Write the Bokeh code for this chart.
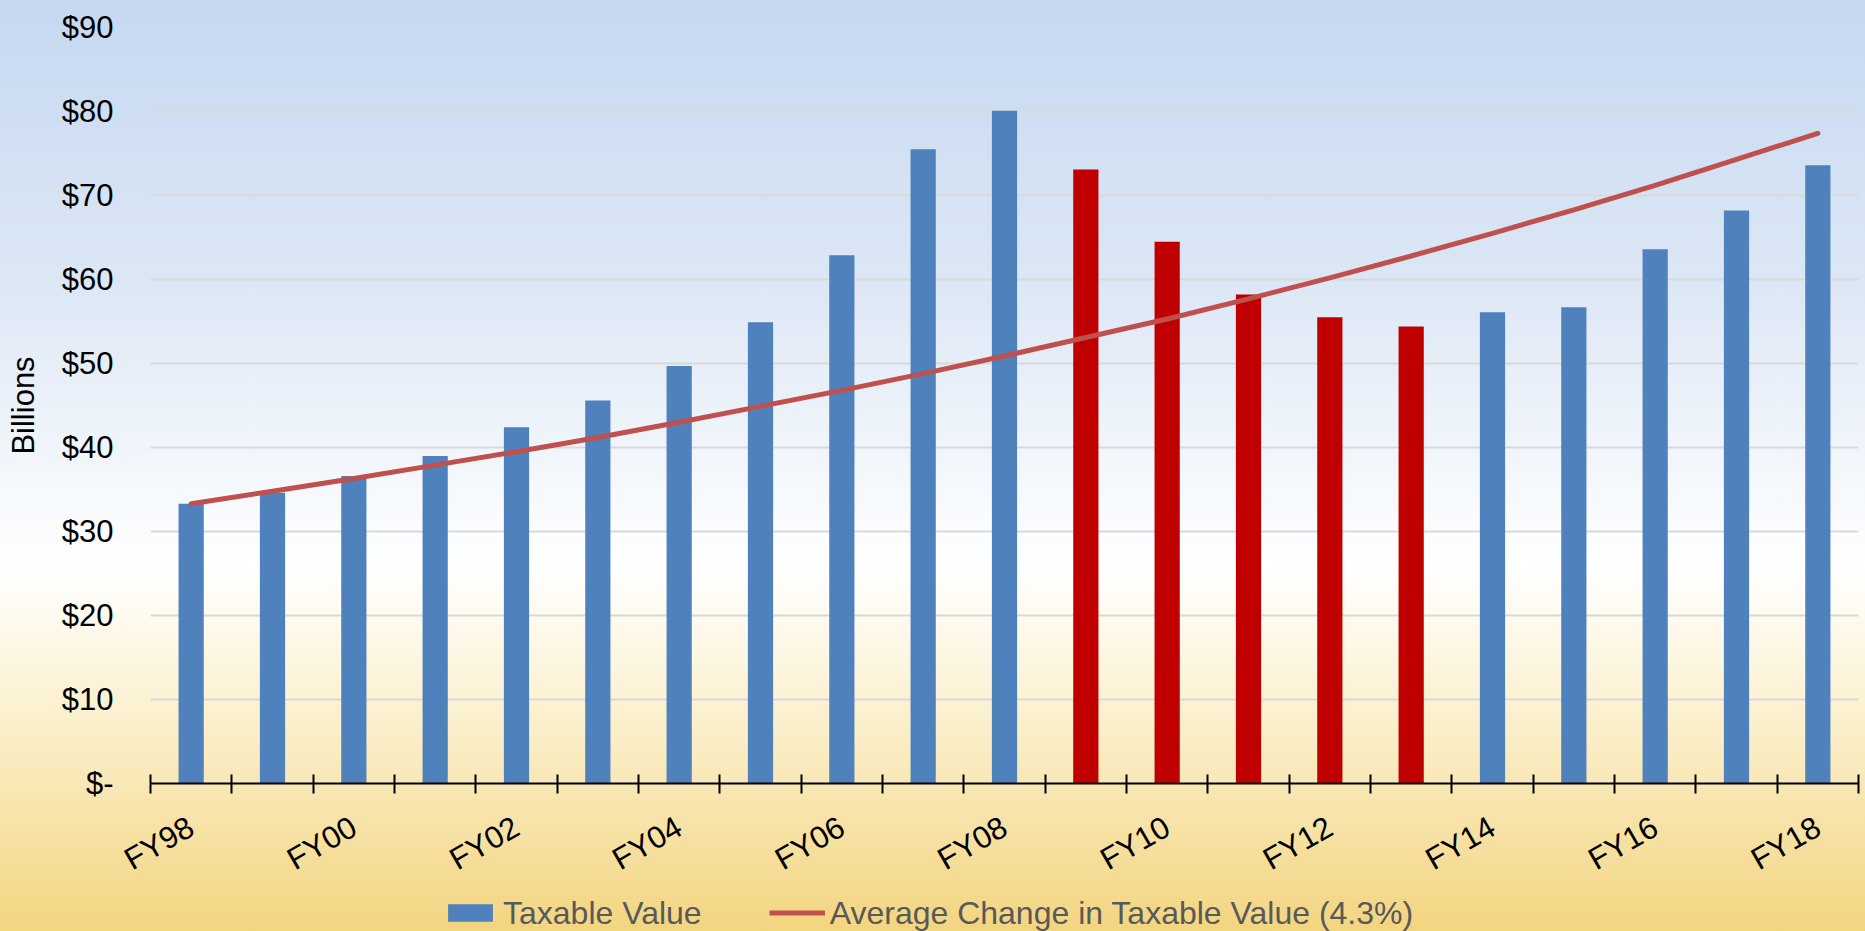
import math
from bokeh.plotting import figure
from bokeh.layouts import column
from bokeh.models import (ColumnDataSource, FixedTicker, Range1d, Legend, LegendItem,
                          GlobalInlineStyleSheet)
from bokeh.embed import file_html
from bokeh.resources import INLINE

# ---------------- data ----------------
years = ["FY98", "FY99", "FY00", "FY01", "FY02", "FY03", "FY04", "FY05", "FY06", "FY07",
         "FY08", "FY09", "FY10", "FY11", "FY12", "FY13", "FY14", "FY15", "FY16", "FY17", "FY18"]
taxable_value = [33.3, 34.6, 36.6, 39.0, 42.4, 45.6, 49.7, 54.9, 62.9, 75.5,
                 80.1, 73.1, 64.5, 58.2, 55.5, 54.4, 56.1, 56.7, 63.6, 68.2, 73.6]
average_change = [33.3, 34.8, 36.3, 37.9, 39.5, 41.2, 43.0, 44.9, 46.8, 48.8,
                  50.9, 53.1, 55.3, 57.7, 60.2, 62.8, 65.5, 68.3, 71.2, 74.3, 77.4]
decline_years = ["FY09", "FY10", "FY11", "FY12", "FY13"]
labelled_years = ["FY98", "FY00", "FY02", "FY04", "FY06", "FY08", "FY10", "FY12", "FY14", "FY16", "FY18"]
y_ticks = [0, 10, 20, 30, 40, 50, 60, 70, 80, 90]
y_tick_labels = ["$-", "$10", "$20", "$30", "$40", "$50", "$60", "$70", "$80", "$90"]
bar_label = "Taxable Value"
line_label = "Average Change in Taxable Value (4.3%)"
y_axis_title = "Billions"

BLUE = "#4F81BD"
DARK_RED = "#C00000"
LINE_RED = "#C0504D"
FONT = "Liberation Sans"
GRADIENT = "linear-gradient(to bottom, #C5D8F0 0%, #DCE7F5 30%, #FFFFFF 61%, #FBEFCB 78%, #F3D580 100%)"

W, H = 1865, 931
H_LEGEND = 37

xpos = list(range(len(years)))
colors = [DARK_RED if y in decline_years else BLUE for y in years]
src = ColumnDataSource(dict(x=xpos, top=taxable_value, color=colors, trend=average_change))

p = figure(width=W, height=H - H_LEGEND, output_backend="svg", toolbar_location=None,
           x_range=Range1d(-0.5, len(years) - 0.5), y_range=Range1d(0, 90),
           min_border_left=150, min_border_right=7, min_border_top=27,
           min_border_bottom=H - H_LEGEND - 783)
p.background_fill_color = None
p.border_fill_color = None
p.outline_line_color = None

page_css = GlobalInlineStyleSheet(css=(
    "html { min-height: 100%; background-color: #FFFFFF; background-image: " + GRADIENT +
    "; background-attachment: fixed; background-repeat: no-repeat; overflow: hidden; }"
    " body { background: transparent; overflow: hidden; }"))
p.stylesheets = [page_css]

bars = p.vbar(x="x", top="top", width=0.31, bottom=0, source=src,
              fill_color="color", line_color=None)
trend = p.line(x="x", y="trend", source=src, line_color=LINE_RED, line_width=5,
               line_cap="round", line_join="round")

# grid
p.xgrid.visible = False
p.ygrid.ticker = FixedTicker(ticks=y_ticks)
p.ygrid.grid_line_color = "#D9D9D9"
p.ygrid.grid_line_width = 2

# y axis
ya = p.yaxis[0]
ya.ticker = FixedTicker(ticks=y_ticks)
ya.major_label_overrides = {t: s for t, s in zip(y_ticks, y_tick_labels)}
ya.axis_line_color = None
ya.major_tick_line_color = None
ya.minor_tick_line_color = None
ya.major_tick_in = 0
ya.major_tick_out = 0
ya.major_label_standoff = 37
ya.major_label_text_font = FONT
ya.major_label_text_font_size = "31px"
ya.major_label_text_color = "#000000"
ya.axis_label = y_axis_title
ya.axis_label_text_font = FONT
ya.axis_label_text_font_size = "31px"
ya.axis_label_text_font_style = "normal"
ya.axis_label_text_color = "#000000"
ya.axis_label_standoff = 18

# x axis
xa = p.xaxis[0]
label_idx = [years.index(y) for y in labelled_years]
xa.ticker = FixedTicker(ticks=label_idx, minor_ticks=[i - 0.5 for i in range(len(years) + 1)])
xa.major_label_overrides = {i: years[i] for i in label_idx}
xa.axis_line_color = "#000000"
xa.axis_line_width = 2
xa.major_tick_line_color = None
xa.major_tick_in = 0
xa.major_tick_out = 10
xa.minor_tick_line_color = "#000000"
xa.minor_tick_line_width = 2
xa.minor_tick_in = 9
xa.minor_tick_out = 10
xa.major_label_orientation = math.pi / 6
xa.major_label_standoff = 31
xa.major_label_text_font = FONT
xa.major_label_text_font_size = "31px"
xa.major_label_text_color = "#000000"

# legend strip below the chart; its glyphs share the chart's data but lie far outside
# its view, so only the legend swatches show
pl = figure(width=W, height=H_LEGEND, output_backend="svg", toolbar_location=None,
            x_range=Range1d(-0.5, len(years) - 0.5), y_range=Range1d(1000, 1010),
            x_axis_location=None, y_axis_location=None,
            min_border_left=150, min_border_right=7, min_border_top=0, min_border_bottom=0)
pl.background_fill_color = None
pl.border_fill_color = None
pl.outline_line_color = None
pl.grid.visible = False
bar_key = pl.vbar(x="x", top="top", width=0.31, bottom=0, source=src,
                  fill_color=BLUE, line_color=None)
line_key = pl.line(x="x", y="trend", source=src, line_color=LINE_RED, line_width=5,
                   line_cap="butt")

legend = Legend(items=[LegendItem(label=bar_label, renderers=[bar_key]),
                       LegendItem(label=line_label, renderers=[line_key])],
                orientation="horizontal", location="left", margin=292,
                glyph_width=56, glyph_height=22, label_standoff=5, spacing=67,
                padding=0, background_fill_color=None, border_line_color=None,
                label_text_font=FONT, label_text_font_size="32px", label_text_color="#595959")
pl.add_layout(legend)

layout = column(p, pl, spacing=0)
open("out.html", "w").write(file_html(layout, INLINE))
